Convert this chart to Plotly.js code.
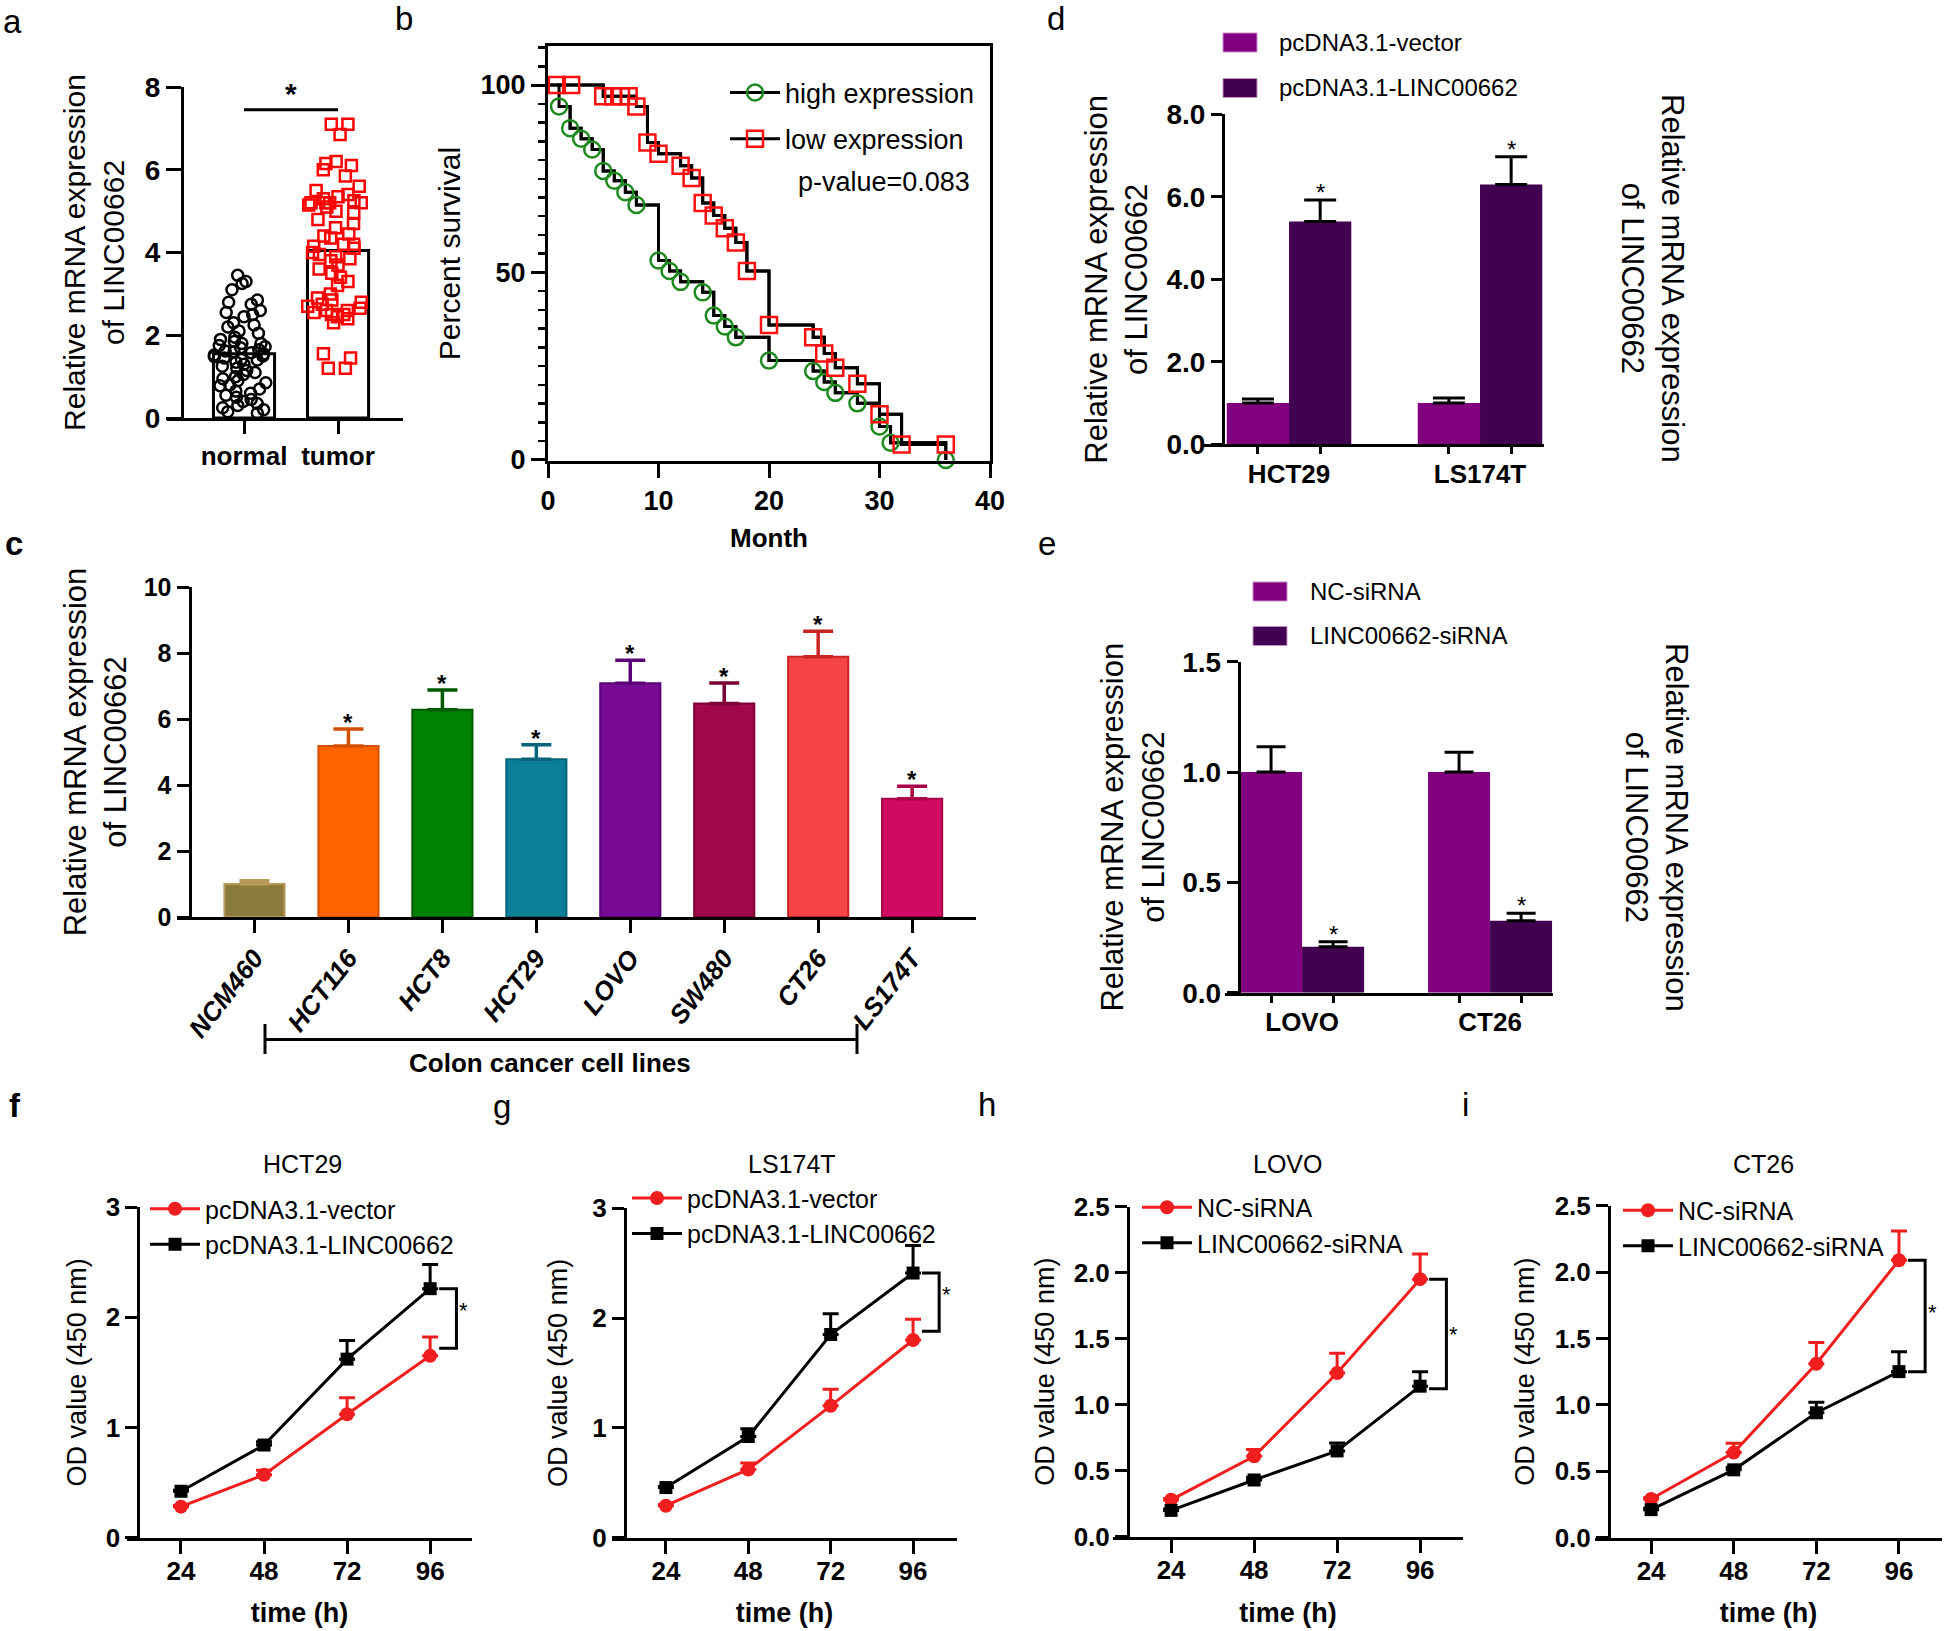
<!DOCTYPE html>
<html><head><meta charset="utf-8">
<script src="https://cdn.plot.ly/plotly-3.0.1.min.js"></script>
<style>html,body{margin:0;padding:0;background:#fff}#chart{width:1946px;height:1631px}</style>
</head><body><div id="chart"></div>
<script>
// ---------------- DATA ----------------
// panel a
const aCats = ['normal', 'tumor'];
const aMeans = [1.55, 4.05];
const aNormal = [3.45,3.3,3.25,3.1,2.85,2.8,2.75,2.6,2.55,2.5,2.45,2.3,2.25,2.2,2.1,2.05,1.95,1.9,1.85,1.8,1.8,1.75,1.72,1.7,1.65,1.62,1.6,1.58,1.55,1.52,1.5,1.48,1.45,1.42,1.4,1.35,1.3,1.25,1.2,1.15,1.1,1.05,1.0,0.95,0.9,0.85,0.8,0.78,0.7,0.65,0.6,0.55,0.5,0.45,0.4,0.35,0.3,0.25,0.2,0.15,0.12];
const aTumor = [7.1,7.1,6.85,6.2,6.15,6.1,6.0,5.85,5.6,5.5,5.4,5.35,5.3,5.25,5.2,5.2,5.2,5.2,5.15,5.1,5.0,4.95,4.8,4.7,4.6,4.45,4.4,4.35,4.2,4.2,4.15,4.1,4.0,3.95,3.9,3.85,3.8,3.7,3.6,3.5,3.4,3.3,3.2,3.0,2.9,2.85,2.8,2.75,2.7,2.65,2.6,2.6,2.55,2.5,2.5,2.45,2.4,2.3,1.55,1.45,1.2,1.2];
// panel b (Kaplan-Meier)
const bHighT = [0,1,2,3,4,5,6,7,8,10,11,12,14,15,16,17,20,24,25,26,28,30,31,36];
const bHighS = [100,94.3,88.5,85.7,82.8,77.1,74.5,71.4,68,53.2,50.4,47.5,44.7,38.5,35.6,32.7,26.5,23.7,20.8,17.9,15.1,8.9,4.6,0];
const bLowT = [0,0.8,2.1,5,5.9,6.6,7.3,8,9,10,12,13,14,15,16,17,18,20,24,25,26,28,30,32,36];
const bLowS = [100,100,100,97,97,97,97,94.3,84.7,81.7,78.5,75.2,68.5,65.2,61.8,58,50.4,36,32.7,28.4,24.6,20.3,12.2,4.1,4.1];
const bPvalue = 'p-value=0.083';
// panel c
const cCats = ['NCM460','HCT116','HCT8','HCT29','LOVO','SW480','CT26','LS174T'];
const cVals = [1.0,5.18,6.28,4.78,7.08,6.47,7.89,3.58];
const cErr  = [0.1,0.52,0.6,0.44,0.7,0.62,0.77,0.38];
const cColors = ['#8b7b3a','#ff6400','#008000','#0a7f96','#780a96','#a0084a','#f54444','#d00a62'];
const cEdges  = ['#b59a5a','#d35000','#005a00','#06637a','#5c007a','#7a0036','#c82424','#a80048'];
// panel d
const dCats = ['HCT29','LS174T'];
const dNames = ['pcDNA3.1-vector','pcDNA3.1-LINC00662'];
const dVector = [1.0, 1.0];
const dVectorErr = [0.1, 0.12];
const dLinc = [5.4, 6.3];
const dLincErr = [0.52, 0.67];
// panel e
const eCats = ['LOVO','CT26'];
const eNames = ['NC-siRNA','LINC00662-siRNA'];
const eNC = [1.0, 1.0];
const eNCErr = [0.115, 0.09];
const eSi = [0.208, 0.326];
const eSiErr = [0.023, 0.034];
// panels f-i (CCK-8)
const hours = [24,48,72,96];
const fVec = [0.28,0.57,1.12,1.65],  fVecErr = [0.01,0.04,0.15,0.17];
const fLinc = [0.42,0.84,1.62,2.26], fLincErr = [0.01,0.03,0.17,0.22];
const gVec = [0.29,0.62,1.2,1.8],    gVecErr = [0.01,0.06,0.15,0.19];
const gLinc = [0.455,0.92,1.85,2.41],gLincErr = [0.01,0.07,0.19,0.25];
const hNC = [0.28,0.61,1.24,1.95],   hNCErr = [0.01,0.05,0.15,0.19];
const hSi = [0.2,0.43,0.65,1.14],    hSiErr = [0.01,0.02,0.06,0.11];
const iNC = [0.29,0.64,1.31,2.09],   iNCErr = [0.01,0.07,0.16,0.22];
const iSi = [0.21,0.51,0.94,1.25],   iSiErr = [0.01,0.02,0.08,0.15];

// ---------------- HELPERS ----------------
const W = 1946, H = 1631;
const px = v => v / W;
const py = v => 1 - v / H;
const xd = (a, b) => [a / W, b / W];
const yd = (t, b) => [1 - b / H, 1 - t / H];
const zeros = arr => arr.map(() => 0);

const F = 'Liberation Sans, Arial, Helvetica, sans-serif';
const bold = (size, extra = {}) => Object.assign({family: F, size: size, color: 'black', weight: 'bold'}, extra);
const norm = size => ({family: F, size: size, color: 'black'});
const base = {type: 'linear', showline: true, linecolor: 'black', linewidth: 3, ticks: 'outside', tickwidth: 3,
  tickcolor: 'black', showgrid: false, zeroline: false, fixedrange: true, automargin: false};
const YT = 'Relative mRNA expression<br>of LINC00662';

const RED = '#f01e1e', GREEN = '#1f8a1f', PUR1 = '#800080', PUR2 = '#420050';

const traces = [], annotations = [], shapes = [];
const layout = {width: W, height: H, margin: {l: 0, r: 0, t: 0, b: 0}, paper_bgcolor: 'white', plot_bgcolor: 'rgba(0,0,0,0)',
  font: {family: F, color: 'black'}, barmode: 'overlay', hovermode: false, showlegend: true};

// ---------------- PANEL A ----------------
traces.push({type: 'bar', x: aCats.map((c, i) => i), y: aMeans, width: 0.65, marker: {color: 'white', line: {color: 'black', width: 3}},
  xaxis: 'x', yaxis: 'y', showlegend: false});
function swarm(vals, pos, sym, col) {
  return {type: 'box', y: vals, x0: pos, boxpoints: 'all', jitter: 1, pointpos: 0, width: 0.74,
    fillcolor: 'rgba(0,0,0,0)', line: {width: 0, color: 'rgba(0,0,0,0)'}, whiskerwidth: 0,
    marker: {symbol: sym, size: 11, color: col, line: {width: 2.5, color: col}},
    xaxis: 'x', yaxis: 'y', showlegend: false};
}
traces.push(swarm(aNormal, 0, 'circle-open', 'black'));
traces.push(swarm(aTumor, 1, 'square-open', '#ff0000'));
layout.xaxis = Object.assign({}, base, {domain: xd(167, 403), anchor: 'y', range: [-0.819, 1.691], tickmode: 'array',
  tickvals: [0, 1], ticktext: aCats, ticklen: 13, tickfont: bold(26)});
layout.yaxis = Object.assign({}, base, {domain: yd(87, 418), anchor: 'free', position: px(182), range: [0, 8], tickmode: 'linear',
  tick0: 0, dtick: 2, ticklen: 15, tickfont: bold(28), title: {text: YT, font: norm(30), standoff: 10}});
shapes.push({type: 'line', xref: 'x', yref: 'y', x0: 0, x1: 1, y0: 7.45, y1: 7.45, line: {color: 'black', width: 3}});
annotations.push({xref: 'x', yref: 'y', x: 0.5, y: 7.85, text: '*', showarrow: false, font: bold(30), yanchor: 'middle'});

// ---------------- PANEL B ----------------
function km(t, s, name, sym, col, grp) {
  traces.push({type: 'scatter', mode: 'lines', x: t, y: s, line: {shape: 'hv', color: 'black', width: 3},
    xaxis: 'x2', yaxis: 'y2', showlegend: false, cliponaxis: false});
  traces.push({type: 'scatter', mode: 'lines+markers', name: name, x: t.slice(1), y: s.slice(1),
    line: {shape: 'hv', color: 'black', width: 3},
    marker: {symbol: sym, size: 16, color: col, line: {width: 2.5, color: col}},
    xaxis: 'x2', yaxis: 'y2', legend: 'legend', legendgroup: grp, cliponaxis: false});
}
km(bHighT, bHighS, 'high expression', 'circle-open', GREEN, 'bh');
km(bLowT, bLowS, 'low expression', 'square-open', '#ff1010', 'bl');
layout.xaxis2 = Object.assign({}, base, {domain: xd(548, 990), anchor: 'y2', range: [0, 40], tickmode: 'linear', tick0: 0, dtick: 10,
  ticklen: 14, mirror: true, tickfont: bold(27), title: {text: 'Month', font: bold(26), standoff: 14}});
layout.yaxis2 = Object.assign({}, base, {domain: yd(46.4, 460.7), anchor: 'x2', range: [-0.2, 110.3], tickmode: 'linear', tick0: 0, dtick: 50,
  ticklen: 14, mirror: true, tickfont: bold(27),
  minor: {tickmode: 'linear', tick0: 0, dtick: 5, ticks: 'outside', ticklen: 7, tickwidth: 2.5, tickcolor: 'black'},
  title: {text: 'Percent survival', font: norm(30), standoff: 12}});
layout.legend = {x: px(725), y: py(116), xanchor: 'left', yanchor: 'middle', bgcolor: 'rgba(0,0,0,0)', borderwidth: 0,
  font: norm(27), itemwidth: 50, tracegroupgap: 8, itemsizing: 'trace'};
annotations.push({xref: 'paper', yref: 'paper', x: px(972), y: py(182), xanchor: 'right', yanchor: 'middle', text: bPvalue,
  showarrow: false, font: norm(27)});

// ---------------- PANEL C ----------------
cCats.forEach((c, i) => {
  traces.push({type: 'bar', x: [i], y: [cVals[i]], width: 0.64, name: c,
    marker: {color: cColors[i], line: {color: cEdges[i], width: 2}},
    error_y: {type: 'data', symmetric: false, array: [cErr[i]], arrayminus: [0], color: cEdges[i], thickness: 3.5, width: 15},
    xaxis: 'x3', yaxis: 'y3', showlegend: false});
  if (i > 0) annotations.push({xref: 'x3', yref: 'y3', x: i, y: cVals[i] + cErr[i], text: '*', showarrow: false,
    yanchor: 'bottom', yshift: -9, font: bold(24)});
});
layout.xaxis3 = Object.assign({}, base, {domain: xd(177, 976), anchor: 'y3', range: [-0.825, 7.68], tickmode: 'array',
  tickvals: cCats.map((c, i) => i), ticktext: cCats, tickangle: -52, ticklen: 12.5,
  tickfont: bold(26, {style: 'italic'})});
layout.yaxis3 = Object.assign({}, base, {domain: yd(587, 917), anchor: 'free', position: px(190), range: [0, 10], tickmode: 'linear',
  tick0: 0, dtick: 2, ticklen: 12.5, tickfont: bold(25), title: {text: YT, font: norm(31), standoff: 6}});
shapes.push({type: 'line', xref: 'paper', yref: 'paper', x0: px(265), x1: px(857), y0: py(1039.6), y1: py(1039.6), line: {color: 'black', width: 3}});
shapes.push({type: 'line', xref: 'paper', yref: 'paper', x0: px(265), x1: px(265), y0: py(1024), y1: py(1054), line: {color: 'black', width: 3}});
shapes.push({type: 'line', xref: 'paper', yref: 'paper', x0: px(857), x1: px(857), y0: py(1024), y1: py(1054), line: {color: 'black', width: 3}});
annotations.push({xref: 'paper', yref: 'paper', x: px(550), y: py(1063), text: 'Colon cancer cell lines', showarrow: false,
  xanchor: 'center', yanchor: 'middle', font: bold(26)});

// ---------------- PANELS D & E (paired bars) ----------------
function pairedBars(cats, v1, e1, v2, e2, names, w, cap, xa, ya) {
  const xs = cats.map((c, i) => i);
  traces.push({type: 'bar', name: names[0], x: xs, y: v1, width: w, offset: -w, marker: {color: PUR1},
    error_y: {type: 'data', symmetric: false, array: e1, arrayminus: zeros(e1), color: 'black', thickness: 3, width: cap},
    xaxis: xa, yaxis: ya, showlegend: false});
  traces.push({type: 'bar', name: names[1], x: xs, y: v2, width: w, offset: 0, marker: {color: PUR2},
    error_y: {type: 'data', symmetric: false, array: e2, arrayminus: zeros(e2), color: 'black', thickness: 3, width: cap},
    xaxis: xa, yaxis: ya, showlegend: false});
  xs.forEach(i => annotations.push({xref: xa, yref: ya, x: i + w / 2, y: v2[i] + e2[i], text: '*', showarrow: false,
    yanchor: 'bottom', yshift: -8, font: norm(24)}));
  return xs.flatMap(i => [i - w / 2, i + w / 2]);
}
function manualLegend(names, colors, x0, rows, textX) {
  names.forEach((n, k) => {
    shapes.push({type: 'rect', xref: 'paper', yref: 'paper', x0: px(x0), x1: px(x0 + 34), y0: py(rows[k] + 9.5), y1: py(rows[k] - 9.5),
      fillcolor: colors[k], line: {width: 1, color: '#c890c8'}});
    annotations.push({xref: 'paper', yref: 'paper', x: px(textX), y: py(rows[k]), xanchor: 'left', yanchor: 'middle', text: n,
      showarrow: false, font: norm(24)});
  });
}
const dW = 0.326;
const dTicks = pairedBars(dCats, dVector, dVectorErr, dLinc, dLincErr, dNames, dW, 16, 'x4', 'y4');
layout.xaxis4 = Object.assign({}, base, {domain: xd(1201, 1544), anchor: 'y4', range: [-0.461, 1.335], tickmode: 'array',
  tickvals: dCats.map((c, i) => i), ticktext: dCats, ticklen: 4, tickcolor: 'rgba(0,0,0,0)', tickfont: bold(26),
  minor: {tickmode: 'array', tickvals: dTicks, ticks: 'outside', ticklen: 7, tickwidth: 3, tickcolor: 'black'}});
const dY = {range: [0, 8], tickmode: 'linear', tick0: 0, dtick: 2, tickformat: '.1f', ticklen: 11, tickfont: bold(28)};
layout.yaxis4 = Object.assign({}, base, dY, {domain: yd(114.3, 444.3), anchor: 'free', position: px(1223),
  title: {text: YT, font: norm(31), standoff: 8}});
layout.yaxis5 = Object.assign({}, base, dY, {overlaying: 'y4', anchor: 'x4', side: 'right'});
annotations.push({xref: 'paper', yref: 'paper', x: px(1652), y: py(278), text: YT, textangle: 90, showarrow: false,
  xanchor: 'center', yanchor: 'middle', font: norm(31)});
manualLegend(dNames, [PUR1, PUR2], 1223, [42.5, 88], 1277);

const eW = 0.33;
const eTicks = pairedBars(eCats, eNC, eNCErr, eSi, eSiErr, eNames, eW, 14.5, 'x5', 'y6');
layout.xaxis5 = Object.assign({}, base, {domain: xd(1225, 1552.5), anchor: 'y6', range: [-0.41, 1.332], tickmode: 'array',
  tickvals: eCats.map((c, i) => i), ticktext: eCats, ticklen: 4, tickcolor: 'rgba(0,0,0,0)', tickfont: bold(26),
  minor: {tickmode: 'array', tickvals: eTicks, ticks: 'outside', ticklen: 7, tickwidth: 3, tickcolor: 'black'}});
const eY = {range: [0, 1.5], tickmode: 'linear', tick0: 0, dtick: 0.5, tickformat: '.1f', ticklen: 11, tickfont: bold(28)};
layout.yaxis6 = Object.assign({}, base, eY, {domain: yd(661.7, 992.7), anchor: 'free', position: px(1238.7),
  title: {text: YT, font: norm(31), standoff: 7}});
layout.yaxis7 = Object.assign({}, base, eY, {overlaying: 'y6', anchor: 'x5', side: 'right'});
annotations.push({xref: 'paper', yref: 'paper', x: px(1657), y: py(827), text: YT, textangle: 90, showarrow: false,
  xanchor: 'center', yanchor: 'middle', font: norm(31)});
manualLegend(eNames, [PUR1, PUR2], 1253, [591.5, 636], 1308);

// ---------------- PANELS F-I (growth curves) ----------------
const vecNames = ['pcDNA3.1-vector', 'pcDNA3.1-LINC00662'];
const siNames = ['NC-siRNA', 'LINC00662-siRNA'];
const growth = [
  {xa: 'x6', ya: 'y8', leg: 'legend2', title: 'HCT29', names: vecNames, s1: fVec, e1: fVecErr, s2: fLinc, e2: fLincErr,
    dom: [127, 472], ydom: [1207.2, 1537.5], yax: 138.3, xr: [8.4, 108.1], yr: [0, 3], dt: 1, fmt: '', tx: 302, off: 0.07, sy: 8,
    legX: 145, legY: 1226.5, so: 10},
  {xa: 'x7', ya: 'y9', leg: 'legend3', title: 'LS174T', names: vecNames, s1: gVec, e1: gVecErr, s2: gLinc, e2: gLincErr,
    dom: [612, 957], ydom: [1208.3, 1537.5], yax: 625, xr: [8.3, 108.8], yr: [0, 3], dt: 1, fmt: '', tx: 792, off: 0.08, sy: 8,
    legX: 627, legY: 1215.8, so: 15},
  {xa: 'x8', ya: 'y10', leg: 'legend4', title: 'LOVO', names: siNames, s1: hNC, e1: hNCErr, s2: hSi, e2: hSiErr,
    dom: [1113, 1463], ydom: [1206.5, 1536.8], yax: 1128, xr: [7.2, 108.4], yr: [0, 2.5], dt: 0.5, fmt: '.1f', tx: 1287, off: -0.02, sy: 0,
    legX: 1137, legY: 1225, so: 10},
  {xa: 'x9', ya: 'y11', leg: 'legend5', title: 'CT26', names: siNames, s1: iNC, e1: iNCErr, s2: iSi, e2: iSiErr,
    dom: [1595, 1942], ydom: [1205.8, 1537.5], yax: 1609, xr: [7.7, 108.5], yr: [0, 2.5], dt: 0.5, fmt: '.1f', tx: 1763, off: 0, sy: 3,
    legX: 1618, legY: 1228, so: 11}
];
growth.forEach(p => {
  traces.push({type: 'scatter', mode: 'lines+markers', name: p.names[0], x: hours, y: p.s1, line: {color: RED, width: 3},
    marker: {symbol: 'circle', size: 14, color: RED},
    error_y: {type: 'data', symmetric: false, array: p.e1, arrayminus: zeros(p.e1), color: RED, thickness: 3, width: 8},
    xaxis: p.xa, yaxis: p.ya, legend: p.leg, cliponaxis: false});
  traces.push({type: 'scatter', mode: 'lines+markers', name: p.names[1], x: hours, y: p.s2, line: {color: 'black', width: 3},
    marker: {symbol: 'square', size: 13, color: 'black'},
    error_y: {type: 'data', symmetric: false, array: p.e2, arrayminus: zeros(p.e2), color: 'black', thickness: 3, width: 8},
    xaxis: p.xa, yaxis: p.ya, legend: p.leg, cliponaxis: false});
  const xk = p.xa.replace('x', 'xaxis'), yk = p.ya.replace('y', 'yaxis');
  layout[xk] = Object.assign({}, base, {domain: xd(p.dom[0], p.dom[1]), anchor: p.ya, range: p.xr, tickmode: 'array',
    tickvals: hours, ticklen: 13.4, ticklabelstandoff: -5, tickfont: bold(26), title: {text: 'time (h)', font: bold(27), standoff: 19}});
  layout[yk] = Object.assign({}, base, {domain: yd(p.ydom[0], p.ydom[1]), anchor: 'free', position: px(p.yax), range: p.yr,
    tickmode: 'linear', tick0: 0, dtick: p.dt, tickformat: p.fmt, ticklen: 12, tickfont: bold(26),
    title: {text: 'OD value (450 nm)', font: norm(27), standoff: p.so}});
  layout[p.leg] = {x: px(p.legX), y: py(p.legY), xanchor: 'left', yanchor: 'middle', bgcolor: 'rgba(0,0,0,0)', borderwidth: 0,
    font: norm(25), itemwidth: 50, itemsizing: 'trace'};
  annotations.push({xref: 'paper', yref: 'paper', x: px(p.tx), y: py(1164), text: p.title, showarrow: false,
    xanchor: 'center', yanchor: 'middle', font: norm(25)});
  const last = hours.length - 1;
  const top = Math.max(p.s1[last], p.s2[last]);
  const bot = Math.min(p.s1[last], p.s2[last]) + p.off;
  const t = hours[last];
  shapes.push({type: 'path', xref: p.xa, yref: p.ya, path: `M${t + 2.6},${top} H${t + 7.6} V${bot} H${t + 2.6}`,
    line: {color: 'black', width: 3}});
  annotations.push({xref: p.xa, yref: p.ya, x: t + 9.7, y: (top + bot) / 2, text: '*', showarrow: false,
    xanchor: 'center', yanchor: 'middle', yshift: p.sy, font: norm(22)});
});

// ---------------- PANEL LETTERS ----------------
const letters = [['a', 12, 21, false], ['b', 404, 18.5, false], ['d', 1056, 18.5, false], ['c', 14, 544, true], ['e', 1047, 544, false],
  ['f', 15, 1105, true], ['g', 502, 1106, false], ['h', 987.5, 1104.5, false], ['i', 1465.5, 1104, false]];
letters.forEach(l => annotations.push({xref: 'paper', yref: 'paper', x: px(l[1]), y: py(l[2]), text: l[0], showarrow: false,
  xanchor: 'center', yanchor: 'middle', font: l[3] ? bold(33) : norm(33)}));

layout.annotations = annotations;
layout.shapes = shapes;
Plotly.newPlot('chart', traces, layout, {staticPlot: true, displayModeBar: false});
</script></body></html>
